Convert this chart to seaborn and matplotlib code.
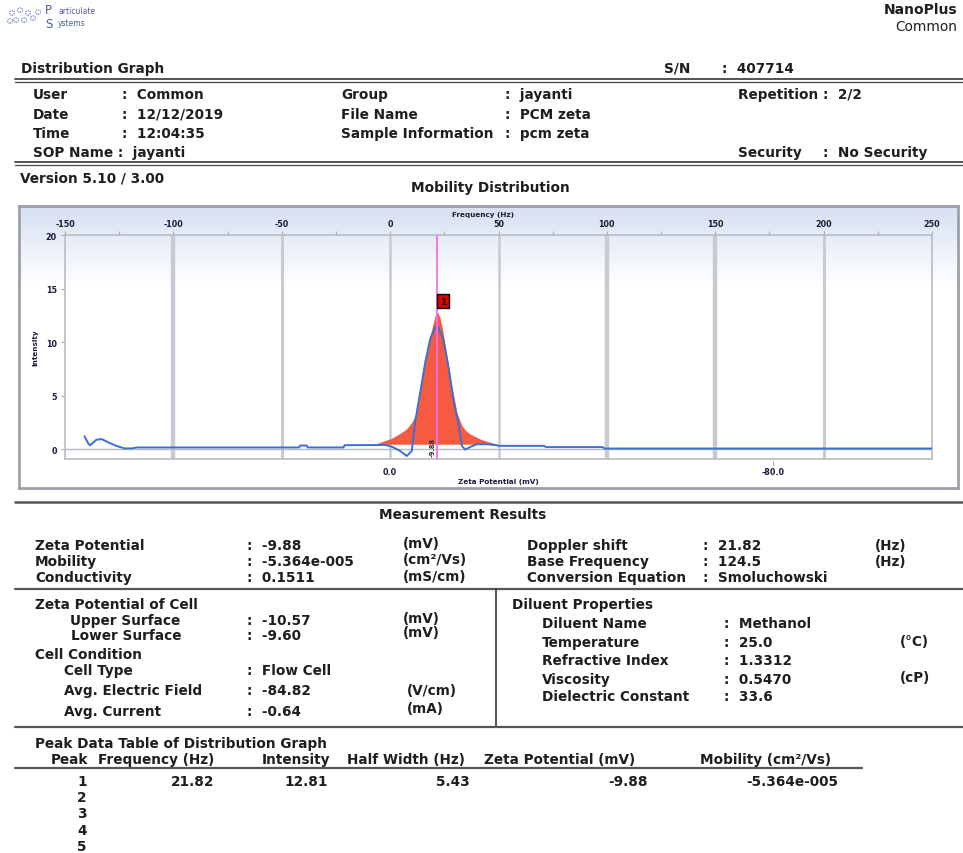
import numpy as np
import matplotlib
matplotlib.use("Agg")
import matplotlib.pyplot as plt
from matplotlib.lines import Line2D
import seaborn as sns

# ---------------- data ----------------
blue_hz = [-141, -139.5, -138.5, -137, -135.5, -133, -130, -126.5, -122.5, -119, -117,
           -42, -41.5, -38.5, -38, -21.5, -21, -2, 1, 4.5, 7.7, 10, 11.5, 13.9, 16.2,
           18.5, 20.8, 22.2, 24.5, 26.8, 29.1, 31.4, 33.1, 34.6, 37, 40, 44.7, 49.3,
           50, 71, 72, 98, 99, 250]
blue_int = [1.2, 0.6, 0.35, 0.6, 0.87, 0.93, 0.62, 0.31, 0.06, 0.06, 0.15,
            0.15, 0.33, 0.33, 0.15, 0.15, 0.36, 0.38, 0.2, -0.16, -0.65, -0.16, 2.5, 5.3, 8.1,
            10.3, 11.4, 11.4, 10.3, 7.8, 4.7, 2.5, 0.3, -0.05, 0.2, 0.45, 0.45, 0.35,
            0.3, 0.3, 0.18, 0.18, 0.05, 0.05]

red_hz = [-6.2, -3, 0, 1.5, 4.5, 7.7, 10, 11.5, 13, 13.9, 16.2, 18.5, 20.8, 21.82,
          23, 23.9, 26.2, 28.5, 30.8, 33.1, 35, 37, 41.6, 45, 47.7, 49.5]
red_int = [0.5, 0.75, 0.95, 1.1, 1.45, 1.9, 2.5, 3.1, 4.2, 5.6, 8.1, 10.6, 12.5, 12.81,
           12.3, 11.5, 8.7, 5.9, 3.4, 2.2, 1.7, 1.4, 0.93, 0.7, 0.55, 0.45]
red_base = 0.45

peak_hz = 21.82
peak_int = 12.81
peak_zeta = "-9.88"

freq_ticks = [-150, -100, -50, 0, 50, 100, 150, 200, 250]
int_ticks = [0, 5, 10, 15, 20]
zeta_tick_hz = [0, 176.7]
zeta_tick_labels = ["0.0", "-80.0"]

# ---------------- figure ----------------
W, H = 963, 854
sns.set_theme(style="white")
plt.rcParams['font.family'] = ['DejaVu Sans']
fig = plt.figure(figsize=(W / 100, H / 100), dpi=100)
fig.patch.set_facecolor("white")

TC = "#1e1e1e"
FS = 9.8
CC = "#1a1a3a"


def T(x, y, s, ha="left", fs=FS, weight="bold", color=TC, **kw):
    fig.text(x / W, 1 - y / H, s, ha=ha, va="center", fontsize=fs,
             fontweight=weight, color=color, **kw)


def HL(y, x0=15, x1=963, lw=1.0, color="#454545"):
    fig.add_artist(Line2D([x0 / W, x1 / W], [1 - y / H, 1 - y / H], lw=lw, color=color))


def VL(x, y0, y1, lw=1.2, color="#454545"):
    fig.add_artist(Line2D([x / W, x / W], [1 - y0 / H, 1 - y1 / H], lw=lw, color=color))


# logo
for (cx, cy) in [(12, 14), (20, 11), (28, 14), (16, 21), (24, 21), (33, 19), (10, 22), (38, 13)]:
    fig.add_artist(plt.Circle((cx / W, 1 - cy / H), 2.5 / W, transform=fig.transFigure,
                              fill=False, ec="#5a6fa8", lw=0.8, ls=(0, (1, 1))))
T(45, 11, "P", fs=8.5, weight="normal", color="#4a5f9a")
T(45, 25, "S", fs=8.5, weight="normal", color="#4a5f9a")
T(58, 12, "articulate", fs=5.5, weight="normal", color="#4a5f9a")
T(58, 23, "ystems", fs=5.5, weight="normal", color="#4a5f9a")

T(957, 10, "NanoPlus", ha="right", fs=10)
T(957, 27, "Common", ha="right", weight="normal")

# header
T(21, 69, "Distribution Graph")
T(664, 69, "S/N")
T(722, 69, ":  407714")
HL(79.5, lw=1.3)
HL(82.5, lw=0.9)

rows = [95, 115, 134, 153]
T(33, rows[0], "User"); T(122, rows[0], ":  Common")
T(33, rows[1], "Date"); T(122, rows[1], ":  12/12/2019")
T(33, rows[2], "Time"); T(122, rows[2], ":  12:04:35")
T(33, rows[3], "SOP Name :  jayanti")
T(341, rows[0], "Group"); T(505, rows[0], ":  jayanti")
T(341, rows[1], "File Name"); T(505, rows[1], ":  PCM zeta")
T(341, rows[2], "Sample Information"); T(505, rows[2], ":  pcm zeta")
T(738, rows[0], "Repetition :  2/2")
T(738, rows[3], "Security"); T(823, rows[3], ":  No Security")
HL(162.5, lw=1.3)
HL(165.5, lw=0.9)
T(20, 178, "Version 5.10 / 3.00")
T(490, 188, "Mobility Distribution", ha="center")

# ---------------- chart box with gradient ----------------
bx0, by0, bx1, by1 = 19, 207, 958, 489
bg = fig.add_axes([bx0 / W, 1 - by1 / H, (bx1 - bx0) / W, (by1 - by0) / H])
t = np.linspace(0, 1, 200)[:, None]
top = np.array([0.84, 0.88, 0.95])
mix = np.clip(t / 0.28, 0, 1)
grad = top[None, None, :] * (1 - mix[..., None]) + np.ones(3)[None, None, :] * mix[..., None]
grad = np.repeat(grad, 2, axis=1)
bg.imshow(grad, aspect="auto", extent=[0, 1, 0, 1], origin="upper")
bg.set_xticks([]); bg.set_yticks([])
for s in bg.spines.values():
    s.set_color("#9ca0a8"); s.set_linewidth(2)

px0, py0, px1, py1 = 65, 236, 932, 460
ax = fig.add_axes([px0 / W, 1 - py1 / H, (px1 - px0) / W, (py1 - py0) / H])
ax.set_facecolor("none")
ax.set_xlim(-150, 250)
ax.set_ylim(-0.93, 20)

# vertical grid lines
for xv, lw in zip([-100, -50, 0, 50, 100, 150, 200], [3.2, 2.2, 1.8, 1.8, 3.2, 3.2, 2.2]):
    ax.axvline(xv, color="#c7cbd1", lw=lw, zorder=0.5)
ax.axhline(0, color="#b4b8c0", lw=1.0, zorder=0.6)

ax.fill_between(red_hz, red_base, red_int, color="#f65a40", lw=0, zorder=2)
sns.lineplot(x=blue_hz, y=blue_int, ax=ax, color="#3b6fd2", lw=1.4, zorder=3,
             sort=False, estimator=None)
ax.axvline(peak_hz, color="#f070f0", lw=1.3, zorder=4)

ax.text(peak_hz + 2.7, peak_int + 1.0, "1", fontsize=6.5, fontweight="bold", color="black",
        ha="center", va="center", zorder=5,
        bbox=dict(boxstyle="square,pad=0.3", fc="#e00000", ec="black", lw=1.0))
ax.text(peak_hz - 2.4, 0.25, peak_zeta, rotation=90, fontsize=4.8, fontweight="bold",
        color="#303030", ha="center", va="center", zorder=5)

ax.xaxis.tick_top()
ax.set_xticks(freq_ticks)
ax.set_xticklabels([str(v) for v in freq_ticks], fontsize=5.8, fontweight="bold", color=CC)
ax.set_xticks(np.arange(-125, 250, 50), minor=True)
ax.set_yticks(int_ticks)
ax.set_yticklabels([str(v) for v in int_ticks], fontsize=5.8, fontweight="bold", color=CC)
ax.tick_params(axis="both", which="both", length=3, width=0.8, color="#a8acb4", pad=3,
               top=True, left=True, bottom=False, right=False)
ax.tick_params(axis="x", which="major", pad=2)
for s in ax.spines.values():
    s.set_color("#b8bcc4"); s.set_linewidth(1.2)
ax.grid(False)

# bottom zeta labels
for hz, lab in zip(zeta_tick_hz, zeta_tick_labels):
    ax.text(hz, -0.93 - 1.15, lab, fontsize=5.8, fontweight="bold", color=CC,
            ha="center", va="center", clip_on=False)
ax.plot([zeta_tick_hz[1]] * 2, [-0.93 - 0.2, -0.93 - 0.6], color="#a8acb4", lw=0.8, clip_on=False)
fig.text(498 / W, 1 - 482 / H, "Zeta Potential (mV)", ha="center", va="center",
         fontsize=5.2, fontweight="bold", color=CC)
fig.text(483 / W, 1 - 215 / H, "Frequency (Hz)", ha="center", va="center",
         fontsize=5.2, fontweight="bold", color=CC)
fig.text(35 / W, 1 - 348 / H, "Intensity", ha="center", va="center", rotation=90,
         fontsize=5.2, fontweight="bold", color=CC)

# ---------------- measurement results ----------------
HL(503, lw=1.8, color="#555555")
T(463, 515, "Measurement Results", ha="center")

r1 = [546, 562, 578]
T(35, r1[0], "Zeta Potential"); T(247, r1[0], ":  -9.88"); T(403, r1[0] - 2, "(mV)")
T(35, r1[1], "Mobility"); T(247, r1[1], ":  -5.364e-005"); T(403, r1[1] - 2, "(cm²/Vs)")
T(35, r1[2], "Conductivity"); T(247, r1[2], ":  0.1511"); T(403, r1[2] - 1, "(mS/cm)")
T(527, r1[0], "Doppler shift"); T(703, r1[0], ":  21.82"); T(875, r1[0], "(Hz)")
T(527, r1[1], "Base Frequency"); T(703, r1[1], ":  124.5"); T(875, r1[1], "(Hz)")
T(527, r1[2], "Conversion Equation"); T(703, r1[2], ":  Smoluchowski")
HL(590, lw=1.6, color="#555555")
VL(496, 590, 728, lw=1.3)

T(35, 605, "Zeta Potential of Cell")
T(70, 621, "Upper Surface"); T(247, 621, ":  -10.57"); T(403, 619, "(mV)")
T(71, 636, "Lower Surface"); T(247, 636, ":  -9.60"); T(403, 633, "(mV)")
T(35, 655, "Cell Condition")
T(64, 671, "Cell Type"); T(247, 671, ":  Flow Cell")
T(64, 691, "Avg. Electric Field"); T(247, 691, ":  -84.82"); T(407, 691, "(V/cm)")
T(64, 712, "Avg. Current"); T(247, 712, ":  -0.64"); T(407, 709, "(mA)")

T(512, 605, "Diluent Properties")
T(542, 624, "Diluent Name"); T(724, 624, ":  Methanol")
T(542, 643, "Temperature"); T(724, 643, ":  25.0"); T(900, 642, "(°C)")
T(542, 661, "Refractive Index"); T(724, 661, ":  1.3312")
T(542, 680, "Viscosity"); T(724, 680, ":  0.5470"); T(900, 678, "(cP)")
T(542, 697, "Dielectric Constant"); T(724, 697, ":  33.6")
HL(728, lw=1.6, color="#555555")

# ---------------- peak table ----------------
T(35, 744, "Peak Data Table of Distribution Graph")
T(51, 760, "Peak"); T(98, 760, "Frequency (Hz)"); T(262, 760, "Intensity")
T(347, 760, "Half Width (Hz)"); T(484, 760, "Zeta Potential (mV)"); T(700, 760, "Mobility (cm²/Vs)")
HL(769, x0=15, x1=862, lw=1.6, color="#555555")
T(82, 782, "1", ha="center"); T(214, 782, "21.82", ha="right"); T(328, 782, "12.81", ha="right")
T(470, 782, "5.43", ha="right"); T(648, 782, "-9.88", ha="right"); T(838, 782, "-5.364e-005", ha="right")
for i, yy in zip(["2", "3", "4", "5"], [798, 814, 831, 847]):
    T(82, yy, i, ha="center")

fig.savefig("out.png", dpi=100, facecolor="white")
